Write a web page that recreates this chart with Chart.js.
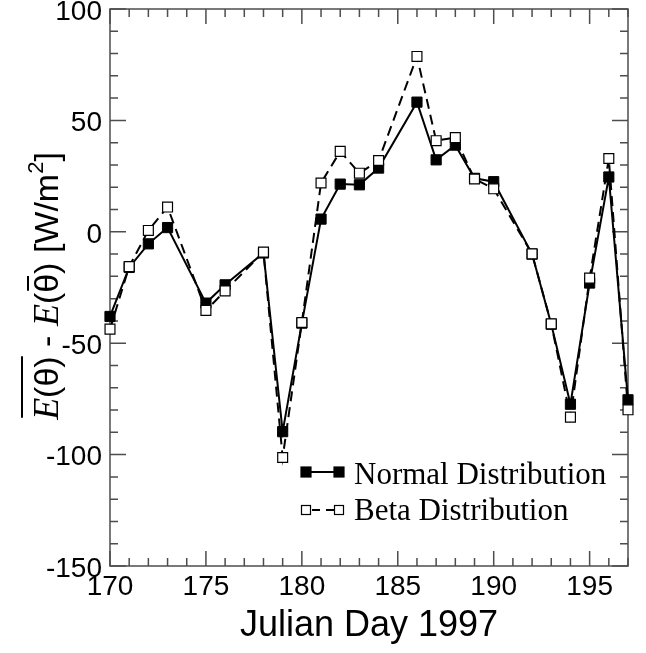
<!DOCTYPE html>
<html>
<head>
<meta charset="utf-8">
<script src="https://cdn.jsdelivr.net/npm/chart.js@4.4.1/dist/chart.umd.min.js"></script>
<style>
  html, body { margin: 0; padding: 0; background: #fff; }
</style>
</head>
<body>
<canvas id="chart" width="646" height="653"></canvas>
<script>
// --- data ---
const days = [170, 171, 172, 173, 175, 176, 178, 179, 180, 181, 182, 183,
              184, 186, 187, 188, 189, 190, 192, 193, 194, 195, 196, 197];
const normalDist = [-38.0, -16.0, -5.4, 1.9, -32.0, -23.8, -9.5, -89.7, -41.0, 5.7, 21.4, 21.1,
                    28.6, 58.2, 32.3, 38.9, 24.0, 22.5, -10.0, -41.5, -77.4, -23.0, 24.6, -75.4];
const betaDist = [-43.7, -15.6, 0.6, 11.1, -35.3, -26.5, -9.1, -101.3, -40.7, 21.9, 36.1, 26.3,
                  32.0, 78.7, 40.9, 42.3, 23.7, 19.3, -9.9, -41.3, -83.2, -20.8, 32.9, -79.9];
const xTicks = [170, 175, 180, 185, 190, 195];
const yTicks = [-150, -100, -50, 0, 50, 100];
const seriesNames = ['Normal Distribution', 'Beta Distribution'];
const xTitle = 'Julian Day 1997';

const SANS = '"Liberation Sans", Arial, Helvetica, sans-serif';
const SERIF = '"Liberation Serif", "Times New Roman", serif';
const FRAME = '#4d4d4d';

const toPoints = (ys) => days.map((d, i) => ({ x: d, y: ys[i] }));

// frame + inward ticks on all four sides
const frameTicks = {
  id: 'frameTicks',
  beforeDatasetsDraw(chart) {
    const { ctx, chartArea: a, scales: { x, y } } = chart;
    ctx.save();
    ctx.strokeStyle = FRAME;
    ctx.lineWidth = 1.5;
    ctx.strokeRect(a.left, a.top, a.right - a.left, a.bottom - a.top);
    ctx.beginPath();
    for (let v = x.min; v <= x.max; v += 1) {
      const px = x.getPixelForValue(v);
      const len = v % 5 === 0 ? 15 : 8;
      ctx.moveTo(px, a.bottom); ctx.lineTo(px, a.bottom - len);
      ctx.moveTo(px, a.top); ctx.lineTo(px, a.top + len);
    }
    for (let v = y.min; v <= y.max; v += 10) {
      const py = y.getPixelForValue(v);
      const len = v % 50 === 0 ? 16 : 8;
      ctx.moveTo(a.left, py); ctx.lineTo(a.left + len, py);
      ctx.moveTo(a.right, py); ctx.lineTo(a.right - len, py);
    }
    ctx.stroke();
    ctx.restore();
  },
};

// legend inside the plot + the y-axis title (overlines, italic E, superscript)
const extras = {
  id: 'extras',
  afterDraw(chart) {
    const { ctx } = chart;
    ctx.save();

    // legend
    const rows = [
      { my: 472, ty: 484, fill: '#000', dash: [] },
      { my: 510, ty: 520, fill: '#fff', dash: [8, 6] },
    ];
    rows.forEach((r, i) => {
      ctx.strokeStyle = '#000';
      ctx.lineWidth = 2;
      ctx.setLineDash(r.dash);
      ctx.beginPath();
      if (r.dash.length) { ctx.moveTo(312, r.my); ctx.lineTo(334, r.my); }
      else { ctx.moveTo(306, r.my); ctx.lineTo(339, r.my); }
      ctx.stroke();
      ctx.setLineDash([]);
      [306, 339].forEach((mx) => {
        const s = i === 0 ? 10 : 9;
        ctx.fillStyle = r.fill;
        ctx.fillRect(mx - s / 2, r.my - s / 2, s, s);
        ctx.lineWidth = 1.2;
        ctx.strokeRect(mx - s / 2, r.my - s / 2, s, s);
      });
      ctx.fillStyle = '#000';
      ctx.font = '31px ' + SERIF;
      ctx.textAlign = 'left';
      ctx.textBaseline = 'alphabetic';
      ctx.fillText(seriesNames[i], 354, r.ty);
    });

    // y title, rotated
    const sans = '34px ' + SANS;
    const ital = 'italic 36px ' + SERIF;
    const parts = [
      { t: 'E', f: ital }, { t: '(θ)', f: sans },
      { t: ' - ', f: sans },
      { t: 'E', f: ital }, { t: '(', f: sans }, { t: 'θ', f: sans, bar: true }, { t: ')', f: sans },
      { t: ' [W/m', f: sans }, { t: '2', f: '22px ' + SANS, dy: -15 }, { t: ']', f: sans },
    ];
    let total = 0;
    parts.forEach((p) => { ctx.font = p.f; p.w = ctx.measureText(p.t).width; total += p.w; });
    ctx.translate(58, 286);
    ctx.rotate(-Math.PI / 2);
    ctx.fillStyle = '#000';
    ctx.strokeStyle = '#000';
    ctx.textBaseline = 'alphabetic';
    let cx = -total / 2;
    parts.forEach((p) => {
      p.x = cx;
      ctx.font = p.f;
      ctx.fillText(p.t, cx, p.dy || 0);
      if (p.bar) {
        ctx.lineWidth = 2;
        ctx.beginPath();
        ctx.moveTo(cx + 2, -30); ctx.lineTo(cx + p.w - 2, -30);
        ctx.stroke();
      }
      cx += p.w;
    });
    ctx.lineWidth = 2;
    ctx.beginPath();
    ctx.moveTo(parts[0].x + 2, -36);
    ctx.lineTo(parts[1].x + parts[1].w, -36);
    ctx.stroke();

    ctx.restore();
  },
};

new Chart(document.getElementById('chart'), {
  type: 'line',
  data: {
    datasets: [
      {
        label: seriesNames[0],
        data: toPoints(normalDist),
        borderColor: '#000',
        borderWidth: 2,
        pointStyle: 'rect',
        pointRadius: 7.2,
        pointBackgroundColor: '#000',
        pointBorderColor: '#000',
        pointBorderWidth: 1,
        tension: 0,
        clip: false,
        order: 1,
      },
      {
        label: seriesNames[1],
        data: toPoints(betaDist),
        borderColor: '#000',
        borderWidth: 2,
        borderDash: [10, 6],
        pointStyle: 'rect',
        pointRadius: 7,
        pointBackgroundColor: '#fff',
        pointBorderColor: '#000',
        pointBorderWidth: 1.2,
        tension: 0,
        clip: false,
        order: 0,
      },
    ],
  },
  options: {
    responsive: false,
    animation: false,
    devicePixelRatio: 1,
    layout: { padding: { top: 9, right: 18, left: 0, bottom: 0 } },
    plugins: { legend: { display: false }, tooltip: { enabled: false } },
    scales: {
      x: {
        type: 'linear',
        min: 170,
        max: 197,
        grid: { display: false, drawTicks: false },
        border: { display: false },
        afterBuildTicks: (s) => { s.ticks = xTicks.map((v) => ({ value: v })); },
        afterFit: (s) => { s.height = 87; s.paddingLeft = 0; s.paddingRight = 0; },
        ticks: { padding: 4, color: '#000', font: { family: SANS, size: 28 }, maxRotation: 0 },
        title: {
          display: true,
          text: xTitle,
          color: '#000',
          font: { family: SANS, size: 36 },
          padding: { top: 0, bottom: 5 },
        },
      },
      y: {
        type: 'linear',
        min: -150,
        max: 100,
        grid: { display: false, drawTicks: false },
        border: { display: false },
        afterBuildTicks: (s) => { s.ticks = yTicks.map((v) => ({ value: v })); },
        afterFit: (s) => { s.width = 110; s.paddingTop = 0; s.paddingBottom = 0; },
        ticks: { padding: 8, labelOffset: 3, color: '#000', font: { family: SANS, size: 28 } },
      },
    },
  },
  plugins: [frameTicks, extras],
});
</script>
</body>
</html>
